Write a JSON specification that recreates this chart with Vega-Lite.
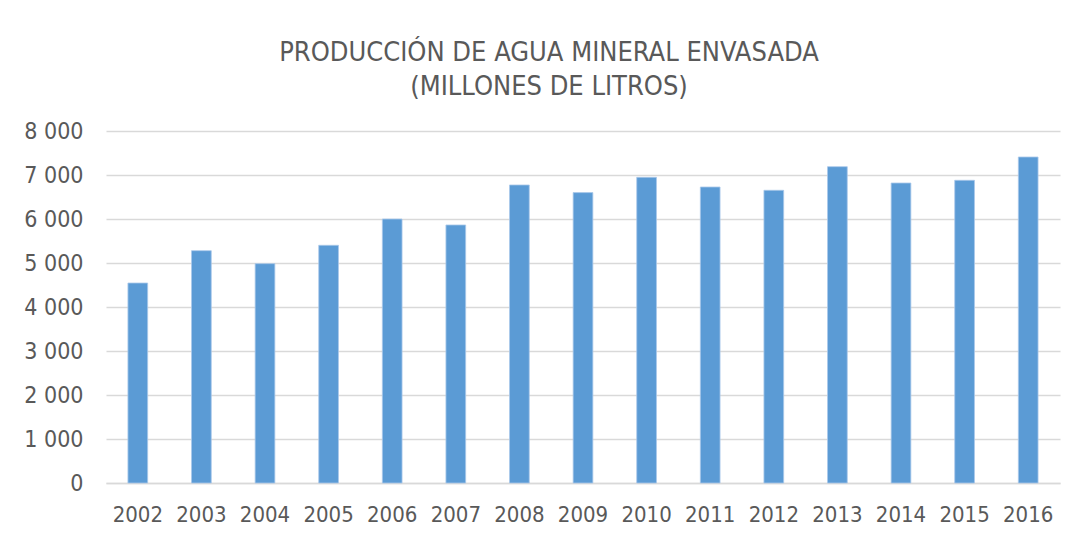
{
  "$schema": "https://vega.github.io/schema/vega-lite/v6.json",
  "autosize": "none",
  "width": 954,
  "height": 352,
  "padding": {"left": 106, "top": 131, "right": 15, "bottom": 54},
  "background": "white",
  "title": {
    "text": ["PRODUCCIÓN DE AGUA MINERAL ENVASADA", "(MILLONES DE LITROS)"],
    "font": "Tahoma, 'DejaVu Sans Condensed', 'DejaVu Sans', sans-serif",
    "fontSize": 27,
    "fontWeight": "normal",
    "color": "#595959",
    "anchor": "middle",
    "dx": -34,
    "lineHeight": 34,
    "offset": 19
  },
  "data": {
    "values": [
      {"year": "2002", "value": 4545},
      {"year": "2003", "value": 5280},
      {"year": "2004", "value": 4985},
      {"year": "2005", "value": 5402},
      {"year": "2006", "value": 6000},
      {"year": "2007", "value": 5864},
      {"year": "2008", "value": 6773},
      {"year": "2009", "value": 6600},
      {"year": "2010", "value": 6947},
      {"year": "2011", "value": 6727},
      {"year": "2012", "value": 6652},
      {"year": "2013", "value": 7189},
      {"year": "2014", "value": 6818},
      {"year": "2015", "value": 6879},
      {"year": "2016", "value": 7409}
    ]
  },
  "mark": {"type": "bar", "color": "#5B9BD5", "stroke": "#a9c8ea", "strokeWidth": 0.8},
  "encoding": {
    "x": {
      "field": "year",
      "type": "ordinal",
      "title": null,
      "scale": {"paddingInner": 0.69, "paddingOuter": 0.345},
      "axis": {
        "labelAngle": 0,
        "ticks": false,
        "domainColor": "#D9D9D9",
        "domainWidth": 1.3,
        "labelFontSize": 22,
        "labelColor": "#595959",
        "labelFont": "Tahoma, 'DejaVu Sans Condensed', 'DejaVu Sans', sans-serif",
        "labelPadding": 21
      }
    },
    "y": {
      "field": "value",
      "type": "quantitative",
      "title": null,
      "scale": {"domain": [0, 8000]},
      "axis": {
        "values": [0, 1000, 2000, 3000, 4000, 5000, 6000, 7000, 8000],
        "labelExpr": "replace(format(datum.value, ','), ',', ' ')",
        "domain": false,
        "ticks": false,
        "gridColor": "#D9D9D9",
        "gridWidth": 1.3,
        "labelFontSize": 23,
        "labelColor": "#595959",
        "labelFont": "Tahoma, 'DejaVu Sans Condensed', 'DejaVu Sans', sans-serif",
        "labelPadding": 23
      }
    }
  },
  "config": {"view": {"stroke": null}}
}
